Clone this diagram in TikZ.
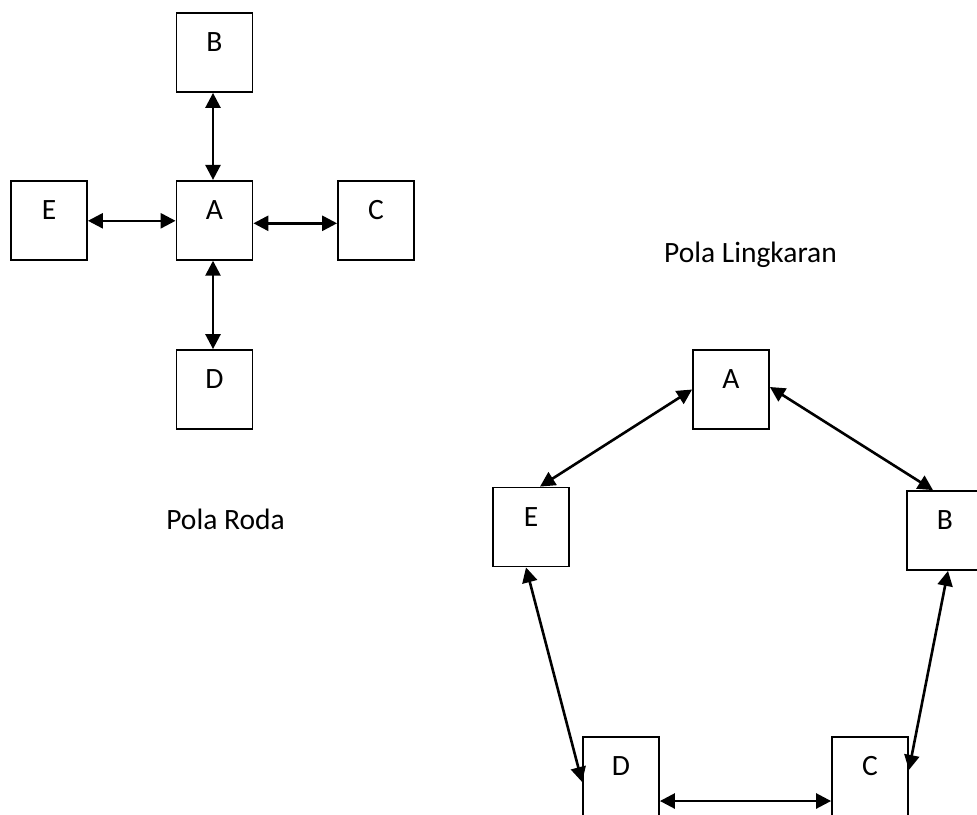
\documentclass[tikz,border=0pt]{standalone}
\usepackage{fontspec}
\setmainfont{Carlito}
\usetikzlibrary{arrows.meta}
\begin{document}
\begin{tikzpicture}[x=1pt,y=-1pt,
  font=\fontsize{29.5}{35}\selectfont,
  box/.style={draw=black,line width=1.8pt,fill=white,minimum width=76pt,minimum height=79pt,inner sep=0pt},
  boxlab/.style={anchor=base,yshift=-39.5pt,inner sep=0pt},
  arr/.style={line width=2.6pt,{Triangle[length=15pt,width=15pt]}-{Triangle[length=15pt,width=15pt]}},
  caption/.style={anchor=base,inner sep=0pt}]
\useasboundingbox (0,0) rectangle (977,814);
\clip (0,0) rectangle (977,814);
% Pola Roda
\node[box,label={[boxlab]north:B}] (wB) at (214.5,52.5) {};
\node[box,label={[boxlab]north:A}] (wA) at (214.5,220.3) {};
\node[box,label={[boxlab]north:E}] (wE) at (49,220.3) {};
\node[box,label={[boxlab]north:C}] (wC) at (376,220.3) {};
\node[box,label={[boxlab]north:D}] (wD) at (214.5,389.5) {};
\draw[arr] ([xshift=-1.5pt]wB.south) -- ([xshift=-1.5pt]wA.north);
\draw[arr] ([xshift=-1.5pt]wA.south) -- ([xshift=-1.5pt]wD.north);
\draw[arr] ([yshift=-0.5pt]wE.east) -- ([yshift=-0.5pt]wA.west);
\draw[arr] ([yshift=-3pt]wA.east) -- ([yshift=-3pt]wC.west);
\node[caption] (roda) at (225.5,529) {Pola Roda};
% Pola Lingkaran
\node[caption] (lingkaran) at (750.5,262) {Pola Lingkaran};
\node[box,label={[boxlab]north:A}] (cA) at (731,389.5) {};
\node[box,label={[boxlab]north:E}] (cE) at (531,527) {};
\node[box,label={[boxlab]north:B}] (cB) at (945,530.5) {};
\node[box,label={[boxlab]north:D}] (cD) at (621,776.5) {};
\node[box,label={[boxlab]north:C}] (cC) at (870,776.5) {};
\draw[arr] ([xshift=9pt]cE.north) -- (cA.west);
\draw[arr] ([yshift=2.5pt]cA.east) -- ([xshift=-12pt]cB.north);
\draw[arr] ([xshift=-5pt]cE.south) -- ([yshift=-5.5pt]cD.west);
\draw[arr] ([xshift=3pt]cB.south) -- ([yshift=6.5pt]cC.east);
\draw[arr] ([yshift=-24.5pt]cD.east) -- ([yshift=-24.5pt]cC.west);
\end{tikzpicture}
\end{document}
